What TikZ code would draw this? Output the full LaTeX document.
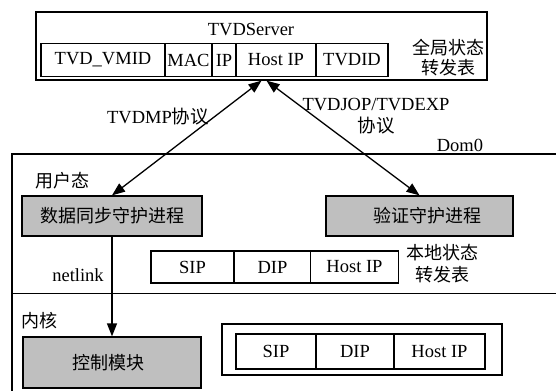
\documentclass[tikz,border=0pt]{standalone}
\usepackage{fontspec}
\setmainfont{Liberation Serif}
\newfontfamily\cjk{Noto Sans CJK SC}
\usetikzlibrary{arrows, arrows.meta}
\usetikzlibrary{positioning}

\begin{document}
\begin{tikzpicture}[x=1pt, y=-1pt, line width=1.3pt,
  font=\fontsize{18.5}{21}\selectfont,
  zh/.style={font=\fontsize{18}{21}\selectfont\cjk},
  cell/.style={draw, rectangle, inner sep=0pt, minimum height=#1},
  proc/.style={draw, rectangle, fill=gray!50, inner sep=0pt, zh},
  link/.style={{Triangle[length=13pt,width=10pt]}-{Triangle[length=13pt,width=10pt]}}]
\useasboundingbox (0,0) rectangle (556,391);

\node[draw, rectangle, minimum width=451pt, minimum height=68pt] (server) at (261.5,46) {};
\node (servername) at (251,30) {TVDServer};
\node[cell=33pt, minimum width=124pt] (vmid) at (103,60) {TVD\_VMID};
\node[cell=33pt, minimum width=47pt] (mac) at (188.5,60) {MAC};
\node[cell=33pt, minimum width=24pt] (ip) at (224,60) {IP};
\node[cell=33pt, minimum width=80pt] (hostip) at (276,60) {Host IP};
\node[cell=33pt, minimum width=72pt] (tvdid) at (352,60) {TVDID};
\node[align=center, zh, font=\fontsize{18}{20}\selectfont\cjk] (globaltab) at (448,58) {全局状态\\转发表};

\draw (556,154) -- (12,154) -- (12,391);
\draw (12,293.5) -- (556,293.5);
\node (dom) at (460,145) {Dom0};
\node[zh] (userspace) at (62,181) {用户态};
\node[zh] (kernel) at (39,321) {内核};

\node[proc, minimum width=180pt, minimum height=40pt] (sync) at (112,216) {数据同步守护进程};
\node[proc, minimum width=187pt, minimum height=40pt] (verify) at (419.5,216) {\hspace{16pt}验证守护进程};
\node[proc, minimum width=178pt, minimum height=51pt] (ctrl) at (112,362.5) {\hspace{-8pt}控制模块};

\node[cell=32pt, minimum width=83pt] (lsip) at (192.5,267) {SIP};
\node[cell=32pt, minimum width=76pt] (ldip) at (272.5,267) {DIP};
\node[cell=32pt, minimum width=88pt] (lhost) at (354.5,267) {Host IP};
\node[align=center, font=\fontsize{18}{22}\selectfont\cjk] (localtab) at (442,264) {本地状态\\转发表};

\node[draw, rectangle, minimum width=280pt, minimum height=51pt] (ktab) at (362,349.5) {};
\node[cell=35pt, minimum width=80pt] (ksip) at (276,351.5) {SIP};
\node[cell=35pt, minimum width=78pt] (kdip) at (355,351.5) {DIP};
\node[cell=35pt, minimum width=91pt] (khost) at (439.5,351.5) {Host IP};

\draw[link] (server.south) -- (sync.north);
\draw[link] ([xshift=5pt]server.south) -- (verify.north);
\draw[-{Triangle[length=13pt,width=10pt]}] (sync.south) -- (ctrl.north);

\node (tvdmp) at (158,117) {TVDMP{\cjk 协议}};
\node[align=center, font=\fontsize{18.5}{22}\selectfont] (tvdjop) at (376,116) {TVDJOP/TVDEXP\\{\cjk 协议}};
\node (netlink) at (78,275) {netlink};
\end{tikzpicture}
\end{document}
